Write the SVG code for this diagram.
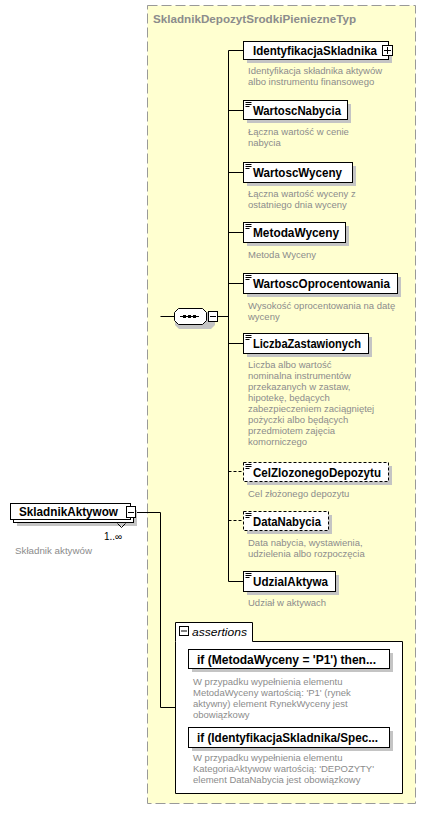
<svg xmlns="http://www.w3.org/2000/svg" width="426" height="823" viewBox="0 0 426 823">
<style>
.bg{fill:#ffffff}
.type{fill:#ffffd0;stroke:#999999;stroke-width:1;stroke-dasharray:10,4}
.title{font-family:"Liberation Sans",Arial,sans-serif;font-weight:bold;font-size:11.5px;fill:#8c8c8c}
.shadow{fill:#c4c4c4}
.box{fill:#ffffff;stroke:#000000;stroke-width:1}
.dbox{fill:#ffffff;stroke:#000000;stroke-width:1;stroke-dasharray:3,2}
.lbl{font-family:"Liberation Sans",Arial,sans-serif;font-weight:bold;font-size:12px;fill:#000000}
.desc{font-family:"Liberation Sans",Arial,sans-serif;font-size:9.5px;fill:#8c8c8c}
.line{stroke:#000000;stroke-width:1;fill:none}
.dline{stroke:#000000;stroke-width:1;fill:none;stroke-dasharray:3,2}
.ico{stroke:#000000;stroke-width:1;fill:none}
.small{font-family:"Liberation Sans",Arial,sans-serif;font-size:10px;fill:#000000}
.ital{font-family:"Liberation Sans",Arial,sans-serif;font-style:italic;font-size:11px;fill:#000000}
</style>
<defs>
<path id="simple" d="M245.5,102.5h6M245.5,104.5h6M245.5,106.5h4" class="ico"/>
</defs>
<rect x="0" y="0" width="426" height="823" class="bg"/>
<g id="type-SkladnikDepozytSrodkiPieniezneTyp">
<rect x="147.5" y="5.5" width="268" height="798" class="type"/>
<text x="153" y="23" class="title" textLength="203" lengthAdjust="spacingAndGlyphs">SkladnikDepozytSrodkiPieniezneTyp</text>
</g>
<g id="connectors">
<path d="M135,512.5H160.5V707.5H175" class="line"/>
<path d="M160.5,316.5H174" class="line"/>
<path d="M218,316.5H228.5" class="line"/>
<path d="M228.5,50.5V581.5H243" class="line"/>
<path d="M228.5,110.5H243M228.5,172.5H243M228.5,232.5H243M228.5,283.5H243M228.5,343.5H243" class="line"/>
<path d="M228.5,471.5H243M228.5,520.5H243" class="dline" stroke="#ffffd0"/>
<path d="M228.5,50.5H243" class="line"/>
</g>
<g id="node-SkladnikAktywow">
<rect x="17" y="510" width="120" height="16" class="shadow"/>
<rect x="13.5" y="506.5" width="120" height="16" class="box"/>
<rect x="10.5" y="503.5" width="120" height="16" class="box"/>
<text x="19" y="516" class="lbl" textLength="99" lengthAdjust="spacingAndGlyphs">SkladnikAktywow</text>
<rect x="126.5" y="506.5" width="9" height="11" class="box"/>
<path d="M128,512.5h6" class="ico"/>
<path d="M117.5,523.5l4,4l4,-4" class="ico" stroke="#555"/>
<text x="104" y="540" class="small">1..∞</text>
<text x="15" y="554" class="desc" textLength="77" lengthAdjust="spacingAndGlyphs">Składnik aktywów</text>
</g>
<g id="node-sequence">
<path d="M179,312h32l4,4v9l-4,4h-32l-4,-4v-9z" class="shadow"/>
<path d="M178.5,308.5h24l4,4v8l-4,4h-24l-4,-4v-8z" class="box"/>
<path d="M180,316.5h19" class="ico"/>
<rect x="183" y="315" width="3" height="3" fill="#000"/>
<rect x="188" y="315" width="3" height="3" fill="#000"/>
<rect x="193" y="315" width="3" height="3" fill="#000"/>
<rect x="208.5" y="311.5" width="9" height="10" class="box"/>
<path d="M210,316.5h6" class="ico"/>
</g>
<g id="node-IdentyfikacjaSkladnika">
<rect x="247" y="45" width="145" height="18" class="shadow"/>
<rect x="243.5" y="41.5" width="145" height="18" class="box"/>
<text x="253" y="55" class="lbl" textLength="124" lengthAdjust="spacingAndGlyphs">IdentyfikacjaSkladnika</text>
<rect x="382.5" y="45.5" width="10" height="10" class="box"/>
<path d="M384,50.5h7M387.5,47v7" class="ico"/>
<text x="248" y="74" class="desc">Identyfikacja składnika aktywów</text>
<text x="248" y="85" class="desc">albo instrumentu finansowego</text>
</g>
<g id="node-WartoscNabycia">
<rect x="247" y="104" width="104" height="19" class="shadow"/>
<rect x="243.5" y="100.5" width="104" height="19" class="box"/>
<use href="#simple"/>
<text x="253" y="115" class="lbl" textLength="88" lengthAdjust="spacingAndGlyphs">WartoscNabycia</text>
<text x="248" y="135" class="desc">Łączna wartość w cenie</text>
<text x="248" y="146" class="desc">nabycia</text>
</g>
<g id="node-WartoscWyceny">
<rect x="247" y="166" width="109" height="20" class="shadow"/>
<rect x="243.5" y="162.5" width="109" height="20" class="box"/>
<use href="#simple" transform="translate(0,62)"/>
<text x="253" y="177" class="lbl" textLength="89" lengthAdjust="spacingAndGlyphs">WartoscWyceny</text>
<text x="248" y="197" class="desc">Łączna wartość wyceny z</text>
<text x="248" y="208" class="desc">ostatniego dnia wyceny</text>
</g>
<g id="node-MetodaWyceny">
<rect x="247" y="226" width="102" height="20" class="shadow"/>
<rect x="243.5" y="222.5" width="102" height="20" class="box"/>
<use href="#simple" transform="translate(0,122)"/>
<text x="253" y="237" class="lbl" textLength="86" lengthAdjust="spacingAndGlyphs">MetodaWyceny</text>
<text x="248" y="258" class="desc">Metoda Wyceny</text>
</g>
<g id="node-WartoscOprocentowania">
<rect x="247" y="277" width="154" height="20" class="shadow"/>
<rect x="243.5" y="273.5" width="154" height="20" class="box"/>
<use href="#simple" transform="translate(0,173)"/>
<text x="253" y="288" class="lbl" textLength="137" lengthAdjust="spacingAndGlyphs">WartoscOprocentowania</text>
<text x="248" y="309" class="desc">Wysokość oprocentowania na datę</text>
<text x="248" y="320" class="desc">wyceny</text>
</g>
<g id="node-LiczbaZastawionych">
<rect x="247" y="337" width="125" height="20" class="shadow"/>
<rect x="243.5" y="333.5" width="125" height="20" class="box"/>
<use href="#simple" transform="translate(0,233)"/>
<text x="253" y="348" class="lbl" textLength="108" lengthAdjust="spacingAndGlyphs">LiczbaZastawionych</text>
<text x="248" y="368" class="desc">Liczba albo wartość</text>
<text x="248" y="379" class="desc">nominalna instrumentów</text>
<text x="248" y="390" class="desc">przekazanych w zastaw,</text>
<text x="248" y="401" class="desc">hipotekę, będących</text>
<text x="248" y="412" class="desc">zabezpieczeniem zaciągniętej</text>
<text x="248" y="423" class="desc">pożyczki albo będących</text>
<text x="248" y="434" class="desc">przedmiotem zajęcia</text>
<text x="248" y="445" class="desc">komorniczego</text>
</g>
<g id="node-CelZlozonegoDepozytu">
<rect x="247" y="466" width="145" height="19" class="shadow"/>
<rect x="243.5" y="462.5" width="145" height="19" class="dbox"/>
<use href="#simple" transform="translate(0,362)"/>
<text x="253" y="477" class="lbl" textLength="128" lengthAdjust="spacingAndGlyphs">CelZlozonegoDepozytu</text>
<text x="248" y="497" class="desc">Cel złożonego depozytu</text>
</g>
<g id="node-DataNabycia">
<rect x="247" y="515" width="85" height="19" class="shadow"/>
<rect x="243.5" y="511.5" width="85" height="19" class="dbox"/>
<use href="#simple" transform="translate(0,411)"/>
<text x="253" y="526" class="lbl" textLength="68" lengthAdjust="spacingAndGlyphs">DataNabycia</text>
<text x="248" y="546" class="desc">Data nabycia, wystawienia,</text>
<text x="248" y="557" class="desc">udzielenia albo rozpoczęcia</text>
</g>
<g id="node-UdzialAktywa">
<rect x="247" y="575" width="92" height="20" class="shadow"/>
<rect x="243.5" y="571.5" width="92" height="20" class="box"/>
<use href="#simple" transform="translate(0,471)"/>
<text x="253" y="586" class="lbl" textLength="75" lengthAdjust="spacingAndGlyphs">UdzialAktywa</text>
<text x="248" y="606" class="desc">Udział w aktywach</text>
</g>
<g id="node-assertions">
<path d="M175.5,641.5V622.5H252.5V641.5H402.5V793.5H175.5Z" class="box"/>
<rect x="179.5" y="626.5" width="9" height="9" class="box"/>
<path d="M181,631h6" class="ico"/>
<text x="192" y="636" class="ital" textLength="55" lengthAdjust="spacingAndGlyphs">assertions</text>
</g>
<g id="node-assert1">
<rect x="192" y="653" width="201" height="19" class="shadow"/>
<rect x="188.5" y="649.5" width="201" height="19" class="box"/>
<text x="197" y="664" class="lbl" textLength="179" lengthAdjust="spacingAndGlyphs">if (MetodaWyceny = 'P1') then...</text>
<text x="193" y="685" class="desc">W przypadku wypełnienia elementu</text>
<text x="193" y="696" class="desc">MetodaWyceny wartością: 'P1' (rynek</text>
<text x="193" y="707" class="desc">aktywny) element RynekWyceny jest</text>
<text x="193" y="718" class="desc">obowiązkowy</text>
</g>
<g id="node-assert2">
<rect x="192" y="731" width="201" height="20" class="shadow"/>
<rect x="188.5" y="727.5" width="201" height="20" class="box"/>
<text x="197" y="742" class="lbl" textLength="181" lengthAdjust="spacingAndGlyphs">if (IdentyfikacjaSkladnika/Spec...</text>
<text x="193" y="761" class="desc">W przypadku wypełnienia elementu</text>
<text x="193" y="772" class="desc">KategoriaAktywow wartością: 'DEPOZYTY'</text>
<text x="193" y="783" class="desc">element DataNabycia jest obowiązkowy</text>
</g>
</svg>
